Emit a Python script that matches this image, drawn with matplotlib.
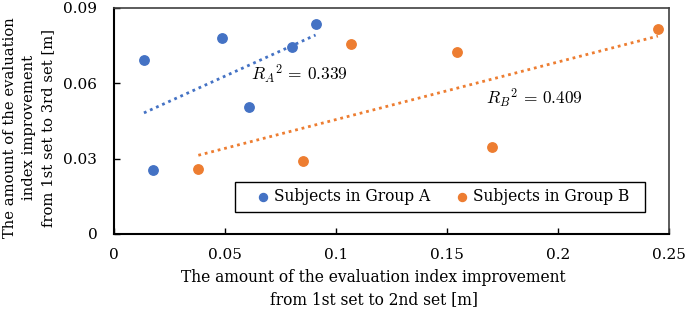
import matplotlib
matplotlib.use("Agg")
import matplotlib.pyplot as plt
from matplotlib.patches import Rectangle
import numpy as np

# group A / group B (x: 1st->2nd set, y: 1st->3rd set)
group_a_x = [0.0135, 0.0176, 0.0488, 0.0608, 0.0800, 0.0908]
group_a_y = [0.0692, 0.0255, 0.0782, 0.0506, 0.0745, 0.0838]
group_b_x = [0.0380, 0.0850, 0.1068, 0.1547, 0.1703, 0.2450]
group_b_y = [0.0258, 0.0291, 0.0758, 0.0725, 0.0345, 0.0815]

r2_a = 0.339
r2_b = 0.409

blue = '#4472C4'
orange = '#ED7D31'

plt.rcParams['font.family'] = ['DejaVu Serif']
plt.rcParams['mathtext.fontset'] = 'cm'

fig = plt.figure(figsize=(6.85, 3.11), dpi=100)
ax = fig.add_axes([0.1664, 0.2476, 0.8102, 0.7267])

ax.scatter(group_a_x, group_a_y, s=46, color=blue, zorder=3, label='Subjects in Group A')
ax.scatter(group_b_x, group_b_y, s=46, color=orange, zorder=3, label='Subjects in Group B')

# linear trendlines, spanning the data range like the Excel ones
for xs, ys, c in [(group_a_x, group_a_y, blue), (group_b_x, group_b_y, orange)]:
    k, b = np.polyfit(xs, ys, 1)
    tx = np.array([min(xs), max(xs)])
    ax.plot(tx, k * tx + b, linestyle=(0, (1, 1.4)), linewidth=2, color=c, zorder=2)

ax.text(0.0616, 0.0637, r'$R_A{}^2\,=\,%.3f$' % r2_a, fontsize=12.5, va='center')
ax.text(0.1676, 0.0540, r'$R_B{}^2\,=\,%.3f$' % r2_b, fontsize=12.5, va='center')

ax.set_xlim(0, 0.25)
ax.set_ylim(0, 0.09)
ax.set_xticks([0, 0.05, 0.1, 0.15, 0.2, 0.25])
ax.set_xticklabels(['0', '0.05', '0.1', '0.15', '0.2', '0.25'])
ax.set_yticks([0, 0.03, 0.06, 0.09])
ax.set_yticklabels(['0', '0.03', '0.06', '0.09'])
ax.tick_params(direction='in', length=4, width=1, labelsize=11)
ax.tick_params(axis='x', pad=10)
ax.tick_params(axis='y', pad=12)

for side in ['left', 'bottom']:
    ax.spines[side].set_linewidth(1.5)
    ax.spines[side].set_color('black')
for side in ['top', 'right']:
    ax.spines[side].set_linewidth(1.2)
    ax.spines[side].set_color('#404040')

ax.set_xlabel('The amount of the evaluation index improvement\nfrom 1st set to 2nd set [m]',
              fontsize=11.2, linespacing=1.4)
ax.set_ylabel('The amount of the evaluation\nindex improvement\nfrom 1st set to 3rd set [m]',
              fontsize=10.6, linespacing=1.45)
ax.xaxis.set_label_coords(0.468, -0.155)
ax.yaxis.set_label_coords(-0.106, 0.47)

# legend without its own frame; the Excel-style box is drawn around it
leg = ax.legend(loc='center', bbox_to_anchor=(0.593, 0.164), ncol=2, fontsize=11.2,
                frameon=False, handlelength=0.8, handletextpad=0.3,
                columnspacing=1.6, borderpad=0.3, markerscale=0.85)
ax.add_patch(Rectangle((0.218, 0.099), 0.738, 0.130, transform=ax.transAxes,
                       fill=True, facecolor='white', edgecolor='black', linewidth=1.0,
                       zorder=4))
leg.set_zorder(5)

fig.savefig('out.png', dpi=100)
